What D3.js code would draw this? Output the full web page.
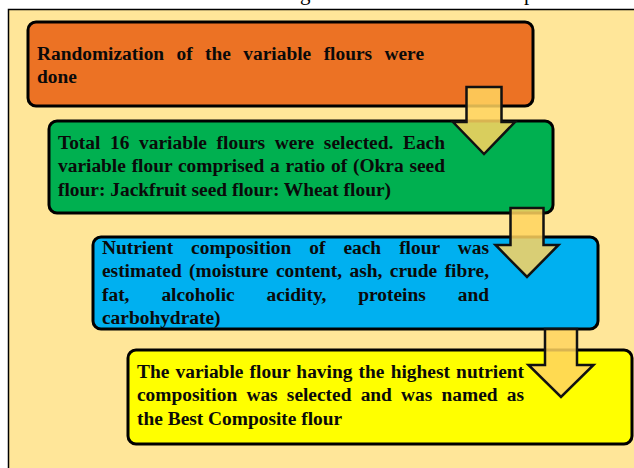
<!DOCTYPE html>
<html>
<head>
<meta charset="utf-8">
<script src="https://cdn.jsdelivr.net/npm/d3@7"></script>
<style>
	body { margin: 0; background: #ffffff; }
	svg { display: block; }
</style>
</head>
<body>
<script>
// step texts, one array of lines per box
let step1 = ['Randomization of the variable flours were', 'done']
let step2 = ['Total 16 variable flours were selected. Each', 'variable flour comprised a ratio of (Okra seed', 'flour: Jackfruit seed flour: Wheat flour)']
let step3 = ['Nutrient composition of each flour was', 'estimated (moisture content, ash, crude fibre,', 'fat, alcoholic acidity, proteins and', 'carbohydrate)']
let step4 = ['The variable flour having the highest nutrient', 'composition was selected and was named as', 'the Best Composite flour']
let steps = [step1, step2, step3, step4]
let stepColors = ['#ec7224', '#00b050', '#00b0f0', '#ffff00']

// caption cut off at the top of the picture
let captionBits = ['g', 'p']

// layout, kept apart from the data
let W = 634, H = 468
let boxes = [
	{x0: 28,  y0: 22,  x1: 533, y1: 106, first: 38},
	{x0: 49,  y0: 121, x1: 553, y1: 213, first: 28},
	{x0: 93,  y0: 237, x1: 598, y1: 329, first: 17},
	{x0: 128, y0: 350, x1: 632, y1: 444, first: 28}
]
let textPad = 9, textW = 387, lineH = 23.3
let arrows = [
	{cx: 484, shaft: 35, head: 62, top: 87,  neck: 122, tip: 154},
	{cx: 527, shaft: 33, head: 63, top: 208, neck: 245, tip: 277},
	{cx: 561, shaft: 32, head: 65, top: 329, neck: 365, tip: 397}
]
let captionX = [300, 524]

let svg = d3.select('body').append('svg')
	.attr('width', W).attr('height', H)

// panel
svg.append('rect')
	.attr('x', 8.5).attr('y', 9.5)
	.attr('width', W).attr('height', H)
	.attr('fill', '#ffe699')
	.attr('stroke', '#000').attr('stroke-width', 1.5)

svg.selectAll('.cap').data(captionBits).enter().append('text')
	.attr('class', 'cap')
	.attr('x', (d, i) => captionX[i]).attr('y', 0)
	.attr('font-family', '"Liberation Serif", "Times New Roman", serif')
	.attr('font-size', 21).attr('fill', '#000')
	.text(d => d)

let lineY = d3.scaleLinear().domain([0, 1]).range([0, lineH])

let arrowLine = d3.line()
function arrowPts(a) {
	let s = a.shaft/2, h = a.head/2
	return [
		[a.cx - s, a.top], [a.cx + s, a.top], [a.cx + s, a.neck], [a.cx + h, a.neck],
		[a.cx, a.tip], [a.cx - h, a.neck], [a.cx - s, a.neck]
	]
}

function drawBox(i) {
	let b = boxes[i]
	let g = svg.append('g')
	g.append('rect')
		.attr('x', b.x0).attr('y', b.y0)
		.attr('width', b.x1 - b.x0).attr('height', b.y1 - b.y0)
		.attr('rx', 8).attr('ry', 8)
		.attr('fill', stepColors[i])
		.attr('stroke', '#000').attr('stroke-width', 3)

	let lines = steps[i]
	g.selectAll('text').data(lines).enter().append('text')
		.attr('x', b.x0 + textPad)
		.attr('y', (d, j) => b.y0 + b.first + lineY(j))
		.attr('font-family', '"Liberation Serif", "Times New Roman", serif')
		.attr('font-weight', 'bold')
		.attr('font-size', 19.4)
		.attr('fill', '#0a0a0a')
		.text(d => d)
		.each(function(d, j) {
			// justify all lines but the last one
			if (j == lines.length - 1) return
			let nat = this.getComputedTextLength()
			let gaps = d.split(' ').length - 1
			if (gaps > 0) {
				d3.select(this).attr('word-spacing', (textW - nat)/gaps)
			}
		})
}

function drawArrow(i) {
	svg.append('path')
		.attr('d', arrowLine(arrowPts(arrows[i])) + 'Z')
		.attr('fill', '#ffd45f').attr('fill-opacity', 0.85)
		.attr('stroke', '#111').attr('stroke-width', 2.5)
		.attr('stroke-linejoin', 'miter')
}

drawBox(0)
drawBox(1)
drawArrow(0)
drawBox(2)
drawArrow(1)
drawBox(3)
drawArrow(2)
</script>
</body>
</html>
